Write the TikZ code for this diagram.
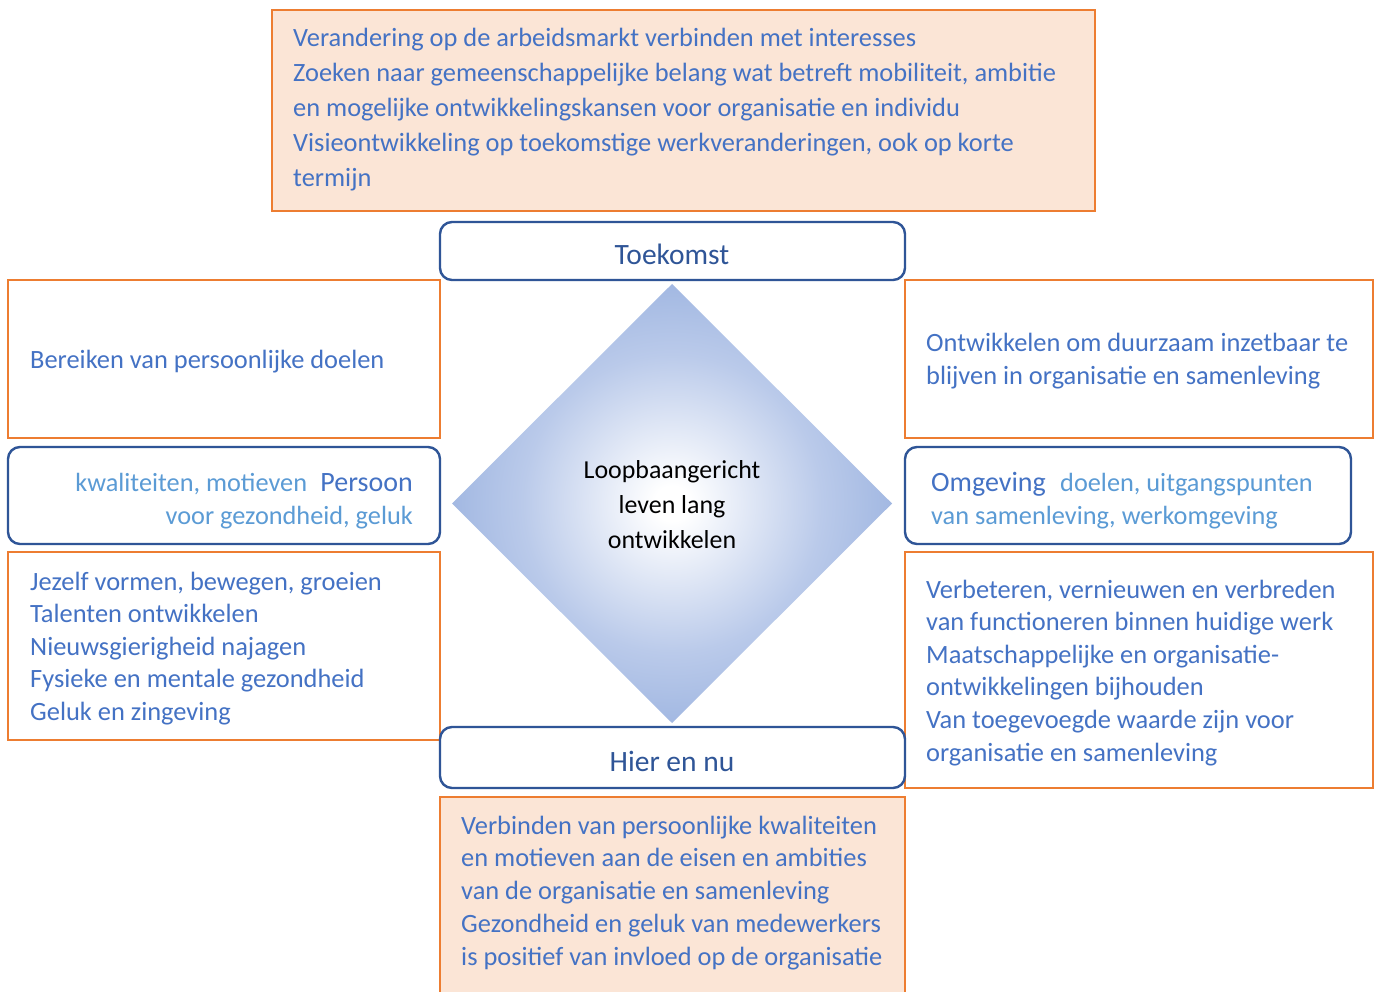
\documentclass[tikz,border=0pt]{standalone}
\usepackage{fontspec}
\setmainfont{Carlito}
\definecolor{orng}{HTML}{ED7D31}
\definecolor{peach}{HTML}{FBE5D6}
\definecolor{txtblue}{HTML}{4472C4}
\definecolor{lightblue}{HTML}{5B9BD5}
\definecolor{darkblue}{HTML}{2F5597}
\definecolor{diamblue}{HTML}{85A2D8}
\definecolor{diammid}{HTML}{BACAEA}
\pgfdeclareradialshading{diamshade}{\pgfpoint{0bp}{0bp}}{color(0bp)=(white); color(2bp)=(white); color(17bp)=(diammid); color(35bp)=(diamblue); color(75bp)=(diamblue)}
\begin{document}
\begin{tikzpicture}[x=1pt,y=-1pt,
  obox/.style={draw=orng, line width=2.4pt},
  pbox/.style={obox, fill=peach},
  rbox/.style={draw=darkblue, line width=2.4pt, rounded corners=12pt, fill=white},
  body/.style={text=txtblue, font=\fontsize{26.4}{30}\selectfont, inner sep=0pt, anchor=base west},
  head/.style={text=darkblue, font=\fontsize{29.5}{33}\selectfont, inner sep=0pt, anchor=base},
  side/.style={text=txtblue, font=\fontsize{28}{32}\selectfont, inner sep=0pt},
  sub/.style={text=lightblue, font=\fontsize{26.3}{30}\selectfont, inner sep=0pt}]
\useasboundingbox (0,0) rectangle (1381,992);
\fill[white] (0,0) rectangle (1381,992);
% orange boxes
\draw[pbox] (272,10) rectangle (1095,211);
\draw[obox] (8,280) rectangle (440,438);
\draw[obox] (905,280) rectangle (1373,438);
\draw[obox] (8,552) rectangle (440,740);
\draw[obox] (905,552) rectangle (1373,788);
\draw[pbox] (440,797) rectangle (905,1010);
% diamond
\path[shading=diamshade] (672,284) -- (892,503.5) -- (672,723) -- (452,503.5) -- cycle;
\node[font=\fontsize{25.9}{35}\selectfont, align=center, inner sep=0pt] (centre) at (672,505) {Loopbaangericht\\leven lang\\ontwikkelen};
% rounded boxes
\draw[rbox] (440,222) rectangle (905,280);
\draw[rbox] (440,727) rectangle (905,788);
\draw[rbox] (8,447) rectangle (440,544);
\draw[rbox] (905,447) rectangle (1351,544);
\node[head] (toekomst) at (672,265) {Toekomst};
\node[head] (hier) at (672,771) {Hier en nu};
% Persoon
\node[side, anchor=base east] (pers) at (413,491) {Persoon};
\node[sub, anchor=base east] (pers1) at ([xshift=-13pt]pers.base west) {kwaliteiten, motieven};
\node[sub, anchor=base east] (pers2) at (413,524) {voor gezondheid, geluk};
% Omgeving
\node[side, anchor=base west] (omg) at (931,491) {Omgeving};
\node[sub, anchor=base west] (omg1) at ([xshift=14pt]omg.base east) {doelen, uitgangspunten};
\node[sub, anchor=base west] (omg2) at (931,524) {van samenleving, werkomgeving};
% texts
\foreach \s [count=\i] in {{Verandering op de arbeidsmarkt verbinden met interesses},{Zoeken naar gemeenschappelijke belang wat betreft mobiliteit, ambitie},{en mogelijke ontwikkelingskansen voor organisatie en individu},{Visieontwikkeling op toekomstige werkveranderingen, ook op korte},{termijn}}
  \node[body] (top\i) at (293,{47+35*(\i-1)}) {\s};
\node[body] (lt1) at (30,368) {Bereiken van persoonlijke doelen};
\foreach \s [count=\i] in {{Ontwikkelen om duurzaam inzetbaar te},{blijven in organisatie en samenleving}}
  \node[body] (rt\i) at (926,{351+33*(\i-1)}) {\s};
\foreach \s [count=\i] in {{Jezelf vormen, bewegen, groeien},{Talenten ontwikkelen},{Nieuwsgierigheid najagen},{Fysieke en mentale gezondheid},{Geluk en zingeving}}
  \node[body] (lb\i) at (30,{590+32.6*(\i-1)}) {\s};
\foreach \s [count=\i] in {{Verbeteren, vernieuwen en verbreden},{van functioneren binnen huidige werk},{Maatschappelijke en organisatie-},{ontwikkelingen bijhouden},{Van toegevoegde waarde zijn voor},{organisatie en samenleving}}
  \node[body] (rb\i) at (926,{598+32.6*(\i-1)}) {\s};
\foreach \s [count=\i] in {{Verbinden van persoonlijke kwaliteiten},{en motieven aan de eisen en ambities},{van de organisatie en samenleving},{Gezondheid en geluk van medewerkers},{is positief van invloed op de organisatie}}
  \node[body] (bt\i) at (461,{834+32.75*(\i-1)}) {\s};
\end{tikzpicture}
\end{document}
